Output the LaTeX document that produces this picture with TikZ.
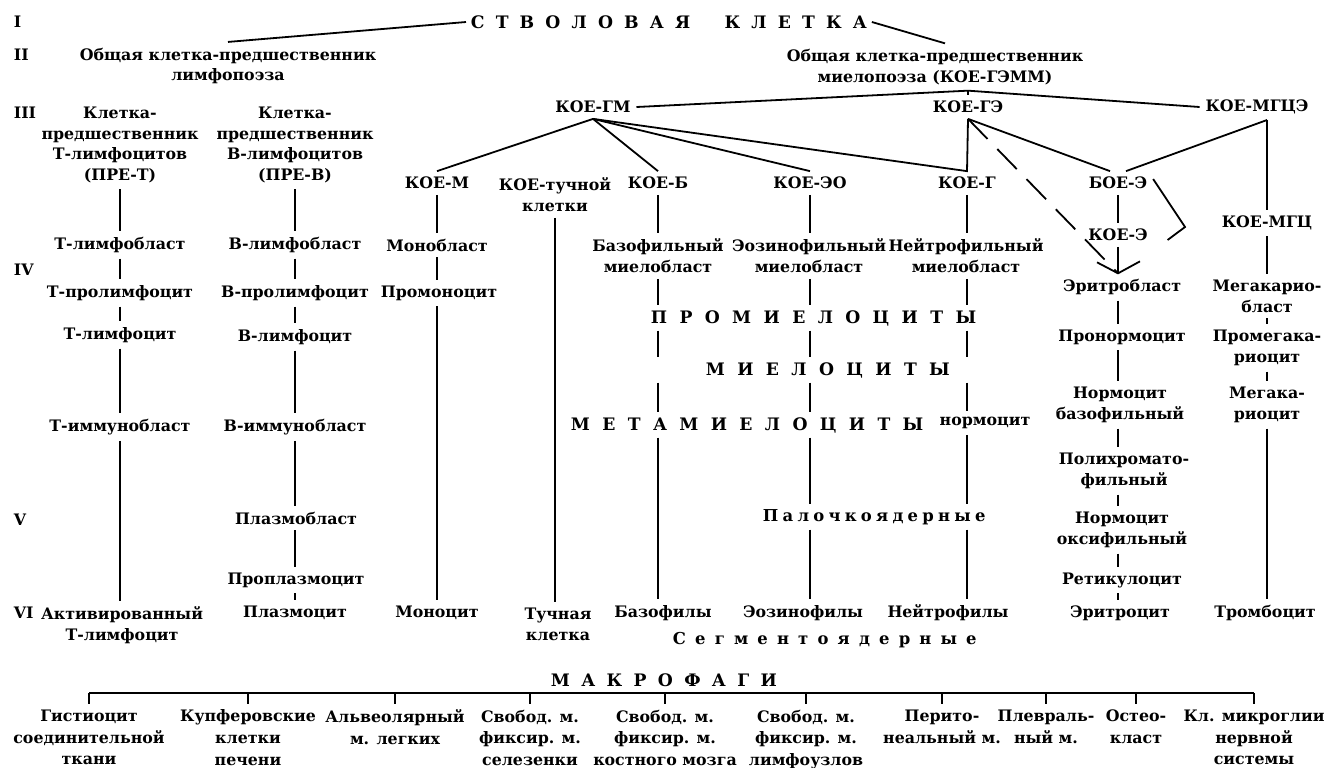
\documentclass[tikz,border=0pt]{standalone}
\usepackage{fontspec}
\setmainfont{DejaVu Serif}
\begin{document}
\begin{tikzpicture}[x=0.5pt,y=-0.5pt,
  line width=0.9pt,
  lab/.style={font=\fontsize{7.9}{10.4}\selectfont\bfseries, align=center, inner sep=2.5pt},
  blab/.style={lab, anchor=north, font=\fontsize{7.9}{10.8}\selectfont\bfseries},
  rlab/.style={font=\fontsize{7.9}{10.4}\selectfont\bfseries, anchor=west, inner sep=0pt},
  capsp/.style={font=\fontsize{8.6}{10}\selectfont\bfseries\addfontfeature{LetterSpace=72}, anchor=west, inner sep=2pt},
  capst/.style={font=\fontsize{8.6}{10}\selectfont\bfseries\addfontfeature{LetterSpace=65}, anchor=west, inner sep=2pt},
  capmac/.style={font=\fontsize{8.6}{10}\selectfont\bfseries\addfontfeature{LetterSpace=66}, anchor=west, inner sep=2pt},
  lowpal/.style={font=\fontsize{8.2}{10}\selectfont\bfseries\addfontfeature{LetterSpace=26}, anchor=west, inner sep=2pt},
  lowseg/.style={font=\fontsize{8.2}{10}\selectfont\bfseries\addfontfeature{LetterSpace=56}, anchor=west, inner sep=2pt},
  dsh/.style={dash pattern=on 14pt off 7pt},
]
\useasboundingbox (0,0) rectangle (1325,767);
% row numerals
\node[rlab] (rI) at (13,22) {I};
\node[rlab] (rII) at (13,55) {II};
\node[rlab] (rIII) at (13,113) {III};
\node[rlab] (rIV) at (13,270) {IV};
\node[rlab] (rV) at (13,520) {V};
\node[rlab] (rVI) at (13,613) {VI};
% top
\node[capst] (stem) at (466,22) {СТВОЛОВАЯ\hspace{2em}КЛЕТКА};
\node[lab] (lc) at (228,66) {Общая клетка-предшественник\\лимфопоэза};
\node[lab] (mc) at (935,67) {Общая клетка-предшественник\\миелопоэза (КОЕ-ГЭММ)};
% row III
\node[lab] (preT) at (120,145) {Клетка-\\предшественник\\Т-лимфоцитов\\(ПРЕ-Т)};
\node[lab] (preB) at (295,145) {Клетка-\\предшественник\\В-лимфоцитов\\(ПРЕ-В)};
\node[lab] (kgm) at (593,107) {КОЕ-ГМ};
\node[lab] (kge) at (968,107) {КОЕ-ГЭ};
\node[lab] (kmgce) at (1257,107) {КОЕ-МГЦЭ};
% CFU row
\node[lab] (kom) at (437,183) {КОЕ-М};
\node[lab] (kot) at (555,195) {КОЕ-тучной\\клетки};
\node[lab] (kob) at (658,183) {КОЕ-Б};
\node[lab] (koeo) at (810,183) {КОЕ-ЭО};
\node[lab] (kog) at (967,183) {КОЕ-Г};
\node[lab] (boee) at (1118,183) {БОЕ-Э};
\node[lab] (kmgc) at (1267,223) {КОЕ-МГЦ};
\node[lab] (koe) at (1118,235) {КОЕ-Э};
% T column
\node[lab] (tlb) at (120,245) {Т-лимфобласт};
\node[lab] (tpl) at (120,293) {Т-пролимфоцит};
\node[lab] (tl) at (120,335) {Т-лимфоцит};
\node[lab] (tib) at (120,427) {Т-иммунобласт};
\node[lab] (act) at (122,625) {Активированный\\Т-лимфоцит};
% B column
\node[lab] (blb) at (295,245) {В-лимфобласт};
\node[lab] (bpl) at (295,293) {В-пролимфоцит};
\node[lab] (bl) at (295,337) {В-лимфоцит};
\node[lab] (bib) at (295,427) {В-иммунобласт};
\node[lab] (plb) at (296,518) {Плазмобласт};
\node[lab] (ppl) at (296,580) {Проплазмоцит};
\node[lab] (plc) at (295,613) {Плазмоцит};
% mono
\node[lab] (mb) at (437,245) {Монобласт};
\node[lab] (pm) at (439,293) {Промоноцит};
\node[lab] (mono) at (437,613) {Моноцит};
% mast
\node[lab] (tk) at (558,624) {Тучная\\клетка};
% granulocytes
\node[lab] (bmb) at (658,256) {Базофильный\\миелобласт};
\node[lab] (bas) at (663,613) {Базофилы};
\node[lab] (emb) at (809,256) {Эозинофильный\\миелобласт};
\node[lab] (eos) at (803,613) {Эозинофилы};
\node[lab] (nmb) at (966,256) {Нейтрофильный\\миелобласт};
\node[lab] (neu) at (948,613) {Нейтрофилы};
\node[capsp] (prom) at (646,318) {ПРОМИЕЛОЦИТЫ};
\node[capsp] (miel) at (701,370) {МИЕЛОЦИТЫ};
\node[capsp] (meta) at (566,425) {МЕТАМИЕЛОЦИТЫ};
\node[lab] (norm) at (985,423) {нормоцит};
\node[lowpal] (pal) at (758,517) {Палочкоядерные};
\node[lowseg] (seg) at (668,640) {Сегментоядерные};
% erythroid
\node[lab] (erb) at (1122,287) {Эритробласт};
\node[lab] (pnc) at (1122,337) {Пронормоцит};
\node[lab] (nbas) at (1120,405) {Нормоцит\\базофильный};
\node[lab] (poly) at (1124,471) {Полихромато-\\фильный};
\node[lab] (nox) at (1122,530) {Нормоцит\\оксифильный};
\node[lab] (ret) at (1122,580) {Ретикулоцит};
\node[lab] (ery) at (1120,613) {Эритроцит};
% megakaryocytes
\node[lab] (mkb) at (1267,296) {Мегакарио-\\бласт};
\node[lab] (pmk) at (1267,348) {Промегака-\\риоцит};
\node[lab] (mk) at (1267,405) {Мегака-\\риоцит};
\node[lab] (tromb) at (1265,613) {Тромбоцит};
% macrophages
\node[capmac] (mac) at (546,680) {МАКРОФАГИ};
\node[blab] (m1) at (89,704) {Гистиоцит\\соединительной\\ткани};
\node[blab] (m2) at (248,704) {Купферовские\\клетки\\печени};
\node[blab] (m3) at (395,704) {Альвеолярный\\м. легких};
\node[blab] (m4) at (530,704) {Свобод. м.\\фиксир. м.\\селезенки};
\node[blab] (m5) at (665,704) {Свобод. м.\\фиксир. м.\\костного мозга};
\node[blab] (m6) at (806,704) {Свобод. м.\\фиксир. м.\\лимфоузлов};
\node[blab] (m7) at (942,704) {Перито-\\неальный м.};
\node[blab] (m8) at (1046,704) {Плевраль-\\ный м.};
\node[blab] (m9) at (1136,704) {Остео-\\класт};
\node[blab] (m10) at (1254,704) {Кл. микроглии\\нервной\\системы};

% ---- connectors ----
\draw (stem.west) -- (lc.north);
\draw (stem.east) -- ([xshift=5pt]mc.north);
\coordinate (jn) at (kge.north |- mc.south);
\draw (kgm.east) -- (jn) -- (kmgce.west);
\draw (jn) -- (kge.north);
\draw (kgm.south) -- (kom.north);
\draw (kgm.south) -- (kob.north);
\draw (kgm.south) -- (koeo.north);
\draw (kgm.south) -- (kog.north) -- (kge.south);
\draw (kge.south) -- ([xshift=-4pt]boee.north);
\coordinate (mgx) at (kmgce.south -| kmgc.north);
\draw (mgx) -- ([xshift=4pt]boee.north);
\draw (mgx) -- (kmgc.north);
\draw (boee.south) -- (koe.north);
\coordinate (tip) at (koe.south |- erb.north);
\draw[dsh] (kge.south) -- (tip);
\draw (koe.south) -- (tip);
\draw ([shift={(-21,-11)}]tip) -- (tip) -- ([shift={(22,-12)}]tip);
\coordinate (bk) at (1185,227);
\draw ([yshift=2pt]boee.east) -- (bk) -- ([xshift=7pt,yshift=-2.5pt]koe.east);

\foreach \a/\b in {preT/tlb, tlb/tpl, tpl/tl, tl/tib, tib/act}
  \draw (preT |- \a.south) -- (preT |- \b.north);
\foreach \a/\b in {preB/blb, blb/bpl, bpl/bl, bl/bib, bib/plb, plb/ppl, ppl/plc}
  \draw (preB |- \a.south) -- (preB |- \b.north);
\foreach \a/\b in {kom/mb, mb/pm, pm/mono}
  \draw (kom |- \a.south) -- (kom |- \b.north);
\draw (kot.south) -- (kot.south |- tk.north);
\foreach \a/\b in {kob/bmb, bmb/prom, prom/miel, miel/meta, meta/bas}
  \draw (kob |- \a.south) -- (kob |- \b.north);
\foreach \a/\b in {koeo/emb, emb/prom, prom/miel, miel/meta, meta/pal, pal/eos}
  \draw (koeo |- \a.south) -- (koeo |- \b.north);
\foreach \a/\b in {kog/nmb, nmb/prom, prom/miel, miel/norm, norm/pal, pal/neu}
  \draw (kog |- \a.south) -- (kog |- \b.north);
\foreach \a/\b in {erb/pnc, pnc/nbas, nbas/poly, poly/nox, nox/ret, ret/ery}
  \draw (koe |- \a.south) -- (koe |- \b.north);
\foreach \a/\b in {kmgc/mkb, mkb/pmk, pmk/mk, mk/tromb}
  \draw (kmgc |- \a.south) -- (kmgc |- \b.north);

\coordinate (bkl) at (0,693);
\draw (m1.north |- bkl) -- (m10.north |- bkl);
\foreach \m in {m1,m2,m3,m4,m5,m6,m7,m8,m9,m10}
  \draw (\m.north |- bkl) -- (\m.north);
\end{tikzpicture}
\end{document}
